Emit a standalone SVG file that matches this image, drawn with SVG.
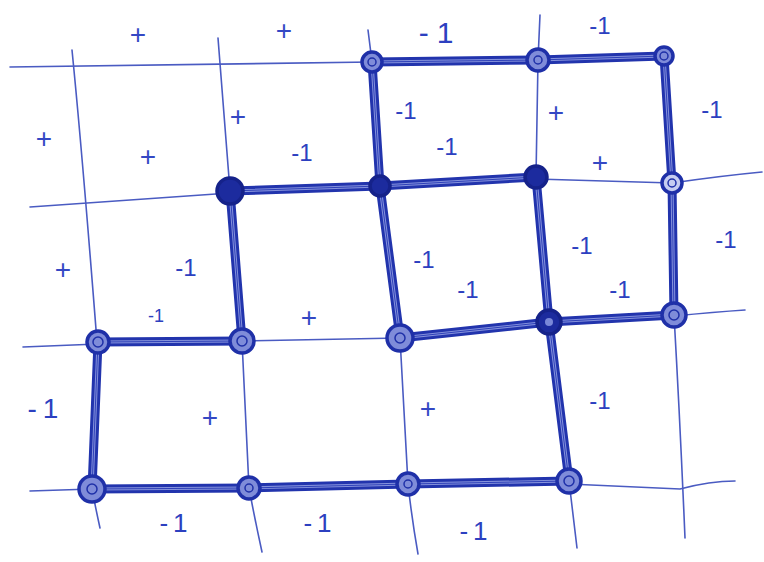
<svg xmlns="http://www.w3.org/2000/svg" width="764" height="562" viewBox="0 0 764 562">
<style>
.grid{fill:none;stroke:#4a5bc2;stroke-width:1.6;stroke-linecap:round}
.edgeO{fill:none;stroke:#2234ad;stroke-width:9;stroke-linecap:round;stroke-linejoin:round}
.edgeI{fill:none;stroke:#8592dc;stroke-width:3;stroke-linecap:round;stroke-linejoin:round}
.edgeC{fill:none;stroke:#2e40b8;stroke-width:1;stroke-linecap:round}
.ring{fill:#7f8cd9;stroke:#1f30a8;stroke-width:3.5}
.dark{fill:#1c2b9e;stroke:#15228a;stroke-width:3.5}
.in{fill:none;stroke:#1f30a8;stroke-width:1.5}
.lbl{font-family:"Liberation Sans",Arial,sans-serif;font-size:24px;fill:#2c40c0;text-anchor:middle}
.plus{font-family:"Liberation Sans",Arial,sans-serif;font-size:28px;fill:#3448c4;text-anchor:middle}
</style>
<rect width="764" height="562" fill="#ffffff"/>
<g id="grid">
<path class="grid" d="M10,67 Q200,64 372,62"/>
<path class="grid" d="M30,207 L230,193"/>
<path class="grid" d="M536,179 L672,183 Q720,176 762,172"/>
<path class="grid" d="M23,347 L98,344"/>
<path class="grid" d="M242,341 L400,338"/>
<path class="grid" d="M674,316 Q715,312 745,310"/>
<path class="grid" d="M30,491 L92,489"/>
<path class="grid" d="M569,484 L680,489 Q710,481 735,481"/>
<path class="grid" d="M72,50 Q82,150 97,342"/>
<path class="grid" d="M92,489 Q96,510 100,528"/>
<path class="grid" d="M218,38 L230,191"/>
<path class="grid" d="M242,341 L249,488 Q255,520 262,552"/>
<path class="grid" d="M368,30 L372,62"/>
<path class="grid" d="M400,338 L408,484 Q412,520 418,554"/>
<path class="grid" d="M540,15 L538,60 L536,177"/>
<path class="grid" d="M569,481 L577,548"/>
<path class="grid" d="M674,315 Q680,420 685,538"/>
</g>
<g id="connectors">
<g class="edgeO">
<path d="M372,62 L538,60 L664,56"/>
<path d="M664,56 L672,183 L674,315"/>
<path d="M372,62 L380,186"/>
<path d="M230,191 L380,186 L536,177"/>
<path d="M230,191 L242,341"/>
<path d="M98,342 L242,341"/>
<path d="M98,342 L92,489"/>
<path d="M92,489 L249,488 L408,484 L569,481"/>
<path d="M380,186 L400,338"/>
<path d="M536,177 L549,322 L569,481"/>
<path d="M400,338 L549,322 L674,315"/>
</g>
<g class="edgeI">
<path d="M372,62 L538,60 L664,56"/>
<path d="M664,56 L672,183 L674,315"/>
<path d="M372,62 L380,186"/>
<path d="M230,191 L380,186 L536,177"/>
<path d="M230,191 L242,341"/>
<path d="M98,342 L242,341"/>
<path d="M98,342 L92,489"/>
<path d="M92,489 L249,488 L408,484 L569,481"/>
<path d="M380,186 L400,338"/>
<path d="M536,177 L549,322 L569,481"/>
<path d="M400,338 L549,322 L674,315"/>
</g>
<g class="edgeC">
<path d="M372,62 L538,60 L664,56"/>
<path d="M664,56 L672,183 L674,315"/>
<path d="M372,62 L380,186"/>
<path d="M230,191 L380,186 L536,177"/>
<path d="M230,191 L242,341"/>
<path d="M98,342 L242,341"/>
<path d="M98,342 L92,489"/>
<path d="M92,489 L249,488 L408,484 L569,481"/>
<path d="M380,186 L400,338"/>
<path d="M536,177 L549,322 L569,481"/>
<path d="M400,338 L549,322 L674,315"/>
</g>
</g>
<g id="n1"><circle class="ring" cx="372" cy="62" r="10"/><circle class="in" cx="372" cy="62" r="4"/></g>
<g id="n2"><circle class="ring" cx="538" cy="60" r="11"/><circle class="in" cx="538" cy="60" r="4"/></g>
<g id="n3"><circle class="ring" cx="664" cy="56" r="9"/><circle class="in" cx="664" cy="56" r="4"/></g>
<g id="n4"><circle class="dark" cx="230" cy="191" r="13"/></g>
<g id="n5"><circle class="dark" cx="380" cy="186" r="10"/></g>
<g id="n6"><circle class="dark" cx="536" cy="177" r="11"/></g>
<g id="n7"><circle class="ring" cx="672" cy="183" r="10" style="fill:#c6cdf1"/><circle class="in" cx="672" cy="183" r="4"/></g>
<g id="n8"><circle class="ring" cx="98" cy="342" r="11"/><circle class="in" cx="98" cy="342" r="5"/></g>
<g id="n9"><circle class="ring" cx="242" cy="341" r="12"/><circle class="in" cx="242" cy="341" r="5"/></g>
<g id="n10"><circle class="ring" cx="400" cy="338" r="13"/><circle class="in" cx="400" cy="338" r="5"/></g>
<g id="n11"><circle class="dark" cx="549" cy="322" r="12"/><circle cx="549" cy="322" r="4" fill="#7a88d8"/></g>
<g id="n12"><circle class="ring" cx="674" cy="315" r="12"/><circle class="in" cx="674" cy="315" r="5"/></g>
<g id="n13"><circle class="ring" cx="92" cy="489" r="13"/><circle class="in" cx="92" cy="489" r="5"/></g>
<g id="n14"><circle class="ring" cx="249" cy="488" r="11"/><circle class="in" cx="249" cy="488" r="4"/></g>
<g id="n15"><circle class="ring" cx="408" cy="484" r="11"/><circle class="in" cx="408" cy="484" r="4"/></g>
<g id="n16"><circle class="ring" cx="569" cy="481" r="12"/><circle class="in" cx="569" cy="481" r="5"/></g>
<g id="labels">
<text class="plus" x="138" y="44">+</text>
<text class="plus" x="284" y="40">+</text>
<text class="plus" x="44" y="148">+</text>
<text class="plus" x="148" y="166">+</text>
<text class="plus" x="238" y="126">+</text>
<text class="plus" x="63" y="279">+</text>
<text class="plus" x="309" y="327">+</text>
<text class="plus" x="210" y="427">+</text>
<text class="plus" x="428" y="418">+</text>
<text class="plus" x="556" y="122">+</text>
<text class="plus" x="600" y="172">+</text>
<text class="lbl" x="440" y="43" style="font-size:30px;letter-spacing:8px">-1</text>
<text class="lbl" x="600" y="34">-1</text>
<text class="lbl" x="406" y="119">-1</text>
<text class="lbl" x="447" y="155">-1</text>
<text class="lbl" x="302" y="161">-1</text>
<text class="lbl" x="712" y="118">-1</text>
<text class="lbl" x="726" y="248">-1</text>
<text class="lbl" x="186" y="276">-1</text>
<text class="lbl" x="156" y="322" style="font-size:18px">-1</text>
<text class="lbl" x="424" y="268">-1</text>
<text class="lbl" x="468" y="298">-1</text>
<text class="lbl" x="582" y="254">-1</text>
<text class="lbl" x="620" y="298">-1</text>
<text class="lbl" x="600" y="409">-1</text>
<text class="lbl" x="46" y="418" style="font-size:28px;letter-spacing:6px">-1</text>
<text class="lbl" x="176" y="532" style="font-size:26px;letter-spacing:5px">-1</text>
<text class="lbl" x="320" y="532" style="font-size:26px;letter-spacing:5px">-1</text>
<text class="lbl" x="476" y="540" style="font-size:26px;letter-spacing:5px">-1</text>
</g>
</svg>
